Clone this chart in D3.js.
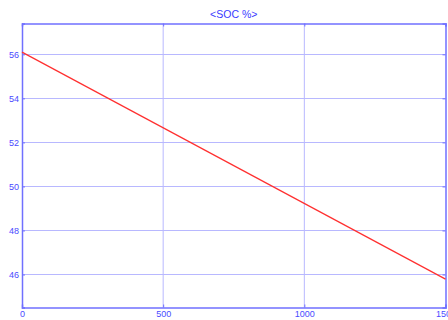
<!DOCTYPE html>
<html>
<head>
<meta charset="utf-8">
<script src="https://cdn.jsdelivr.net/npm/d3@7"></script>
<style>
  body { margin: 0; background: #fff; overflow: hidden; }
</style>
</head>
<body>
<div id="container"></div>
<script>
var w = 448;
var h = 320;

// data
var timeValues = [0, 1500];
var socValues = [56.1, 45.79];
var xTicks = [0, 500, 1000, 1500];
var yTicks = [46, 48, 50, 52, 54, 56];
var title = "<SOC %>";

var margin = {top: 23.5, right: 2.5, bottom: 12.5, left: 22};

var svg = d3.select("div#container").append("svg")
    .attr("width", w)
    .attr("height", h)
    .style("background-color", "white");

var x = d3.scaleLinear()
    .domain([0, 1500])
    .range([margin.left, w - margin.right]);

var y = d3.scaleLinear()
    .domain([44.5, 57.4])
    .range([h - margin.bottom, margin.top]);

var axisColor = "#7070ff";
var gridColor = "#b8b8ff";
var textColor = "#4a4aff";

// grid
svg.append("g")
  .selectAll("line.gx")
  .data(xTicks.slice(1, -1))
  .enter().append("line")
    .attr("x1", function(d) { return x(d); })
    .attr("x2", function(d) { return x(d); })
    .attr("y1", y.range()[1])
    .attr("y2", y.range()[0])
    .attr("stroke", gridColor)
    .attr("stroke-width", 1);

svg.append("g")
  .selectAll("line.gy")
  .data(yTicks)
  .enter().append("line")
    .attr("x1", x.range()[0])
    .attr("x2", x.range()[1])
    .attr("y1", function(d) { return Math.round(y(d)) + 0.5; })
    .attr("y2", function(d) { return Math.round(y(d)) + 0.5; })
    .attr("stroke", gridColor)
    .attr("stroke-width", 1);

// axes (inward ticks, MATLAB style)
var xAxis = svg.append("g")
    .attr("transform", "translate(0," + y.range()[0] + ")")
    .call(d3.axisBottom(x).tickValues(xTicks).tickSize(-3).tickPadding(3.5).tickFormat(d3.format("d")));

var yAxis = svg.append("g")
    .attr("transform", "translate(" + x.range()[0] + ",0)")
    .call(d3.axisLeft(y).tickValues(yTicks).tickSize(-3).tickPadding(3).tickFormat(d3.format("d")));

var yAxisR = svg.append("g")
    .attr("transform", "translate(" + x.range()[1] + ",0)")
    .call(d3.axisRight(y).tickValues(yTicks).tickSize(-3).tickFormat(""));

var xAxisT = svg.append("g")
    .attr("transform", "translate(0," + y.range()[1] + ")")
    .call(d3.axisTop(x).tickValues(xTicks).tickSize(-3).tickFormat(""));

[xAxis, yAxis, yAxisR, xAxisT].forEach(function(g) {
  g.select(".domain").attr("stroke", axisColor).attr("stroke-width", 1.5);
  g.selectAll(".tick line").attr("stroke", axisColor);
  g.selectAll("text")
    .attr("fill", textColor)
    .style("font-family", "Liberation Sans, Arial, sans-serif")
    .style("font-size", "9px");
});

// line
var line = d3.line()
    .x(function(d, i) { return x(timeValues[i]); })
    .y(function(d) { return y(d); });

svg.append("path")
    .datum(socValues)
    .attr("fill", "none")
    .attr("stroke", "#ff3030")
    .attr("stroke-width", 1.2)
    .attr("d", line);

// title
svg.append("text")
    .attr("x", (x.range()[0] + x.range()[1]) / 2)
    .attr("y", 18)
    .attr("text-anchor", "middle")
    .attr("fill", "#3a3aff")
    .style("font-family", "Liberation Sans, Arial, sans-serif")
    .style("font-size", "10.5px")
    .text(title);
</script>
</body>
</html>
